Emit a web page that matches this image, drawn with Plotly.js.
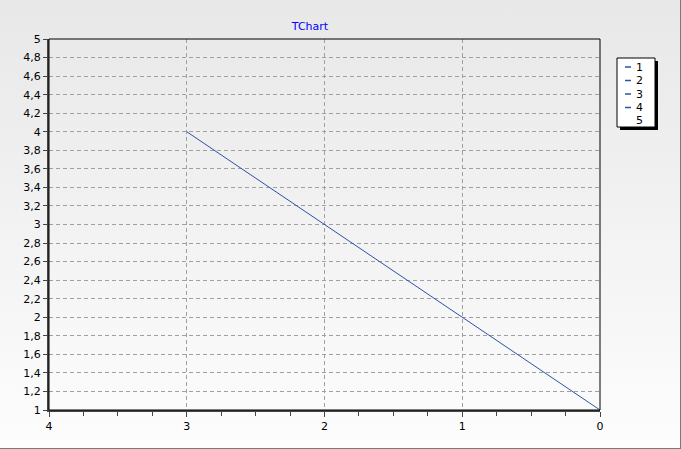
<!DOCTYPE html>
<html>
<head>
<meta charset="utf-8">
<script src="https://cdn.plot.ly/plotly-3.0.1.min.js"></script>
<style>
  html, body { margin: 0; padding: 0; }
  #wrap {
    width: 681px; height: 449px; box-sizing: border-box;
    background: linear-gradient(to bottom, #e8e8e8 0%, #f0f0f0 40%, #fdfdfd 100%);
    border-right: 1px solid #7a7a7a; border-bottom: 1px solid #7a7a7a;
    position: relative; overflow: hidden;
  }
  #chart { width: 681px; height: 449px; position: absolute; left: 0; top: 0; }
</style>
</head>
<body>
<div id="wrap"><div id="chart"></div></div>
<script>
// ---- data ----
const xValues = [0, 1, 2, 3, 4];
const yValues = [1, 2, 3, 4, null];
const pointLabels = ['1', '2', '3', '4', '5'];
const xTickVals = [0, 1, 2, 3, 4];
const xTickLabels = ['0', '1', '2', '3', '4'];
const yTickVals = [1, 1.2, 1.4, 1.6, 1.8, 2, 2.2, 2.4, 2.6, 2.8, 3, 3.2, 3.4, 3.6, 3.8, 4, 4.2, 4.4, 4.6, 4.8, 5];
const yTickLabels = ['1', '1,2', '1,4', '1,6', '1,8', '2', '2,2', '2,4', '2,6', '2,8', '3', '3,2', '3,4', '3,6', '3,8', '4', '4,2', '4,4', '4,6', '4,8', '5'];

// ---- layout geometry (pixels) ----
const W = 681, H = 449;
const L = 49, R = 81, T = 39, B = 39;
const pw = W - L - R, ph = H - T - B;
const px = v => (v - L) / pw;
const py = v => (H - B - v) / ph;

const FONT = 'DejaVu Sans, Verdana, sans-serif';
const lineColor = '#2d52a3';

const shapes = [];
const annotations = [];

// chart frame (top/right thin black)
shapes.push({type: 'rect', xref: 'paper', yref: 'paper', x0: 0, x1: 1, y0: 0, y1: 1,
  line: {color: '#000', width: 1}, layer: 'above'});

// manual legend (TChart style, values per point)
const lgL = 617, lgR = 655, lgT = 58, lgB = 127, sh = 3;
shapes.push({type: 'rect', xref: 'paper', yref: 'paper',
  x0: px(lgL + sh), x1: px(lgR + sh), y0: py(lgB + sh), y1: py(lgT + sh),
  fillcolor: '#000', line: {width: 0}});
shapes.push({type: 'rect', xref: 'paper', yref: 'paper',
  x0: px(lgL), x1: px(lgR), y0: py(lgB), y1: py(lgT),
  fillcolor: '#fff', line: {color: '#000', width: 1}});
pointLabels.forEach((lab, i) => {
  const yy = 67 + i * 13.5;
  if (yValues[i] !== null) {
    shapes.push({type: 'line', xref: 'paper', yref: 'paper',
      x0: px(625), x1: px(631), y0: py(yy), y1: py(yy),
      line: {color: lineColor, width: 1.5}});
  }
  annotations.push({xref: 'paper', yref: 'paper', x: px(645), y: py(yy),
    xanchor: 'right', yanchor: 'middle', text: lab, showarrow: false,
    font: {family: FONT, size: 11, color: '#000'}});
});

const trace = {
  x: xValues, y: yValues, type: 'scatter', mode: 'lines',
  line: {color: lineColor, width: 1}, showlegend: false, hoverinfo: 'x+y'
};

const layout = {
  width: W, height: H,
  margin: {l: L, r: R, t: T, b: B, pad: 0},
  paper_bgcolor: 'rgba(0,0,0,0)',
  plot_bgcolor: 'rgba(0,0,0,0)',
  showlegend: false,
  title: {text: 'TChart', font: {family: FONT, size: 11, color: '#0000ff'},
    xref: 'paper', x: px(310), xanchor: 'center', yref: 'container', y: 1 - 26 / H, yanchor: 'middle'},
  xaxis: {
    range: [4, 0], tickvals: xTickVals, ticktext: xTickLabels,
    showline: true, linecolor: '#444', linewidth: 2,
    ticks: 'outside', ticklen: 5, tickwidth: 1, tickcolor: '#444',
    minor: {dtick: 0.25, ticks: 'outside', ticklen: 4, tickcolor: '#444', showgrid: false},
    showgrid: true, gridcolor: '#a0a0a0', gridwidth: 1, griddash: '4px,3px',
    zeroline: false, tickfont: {family: FONT, size: 11, color: '#000'}, fixedrange: true
  },
  yaxis: {
    range: [1, 5], tickvals: yTickVals, ticktext: yTickLabels,
    showline: true, linecolor: '#444', linewidth: 2,
    ticks: 'outside', ticklen: 4, tickwidth: 1, tickcolor: '#444',
    showgrid: true, gridcolor: '#a0a0a0', gridwidth: 1, griddash: '4px,3px',
    zeroline: false, tickfont: {family: FONT, size: 11, color: '#000'}, fixedrange: true
  },
  shapes: shapes,
  annotations: annotations
};

Plotly.newPlot('chart', [trace], layout, {displayModeBar: false, staticPlot: true});
</script>
</body>
</html>
